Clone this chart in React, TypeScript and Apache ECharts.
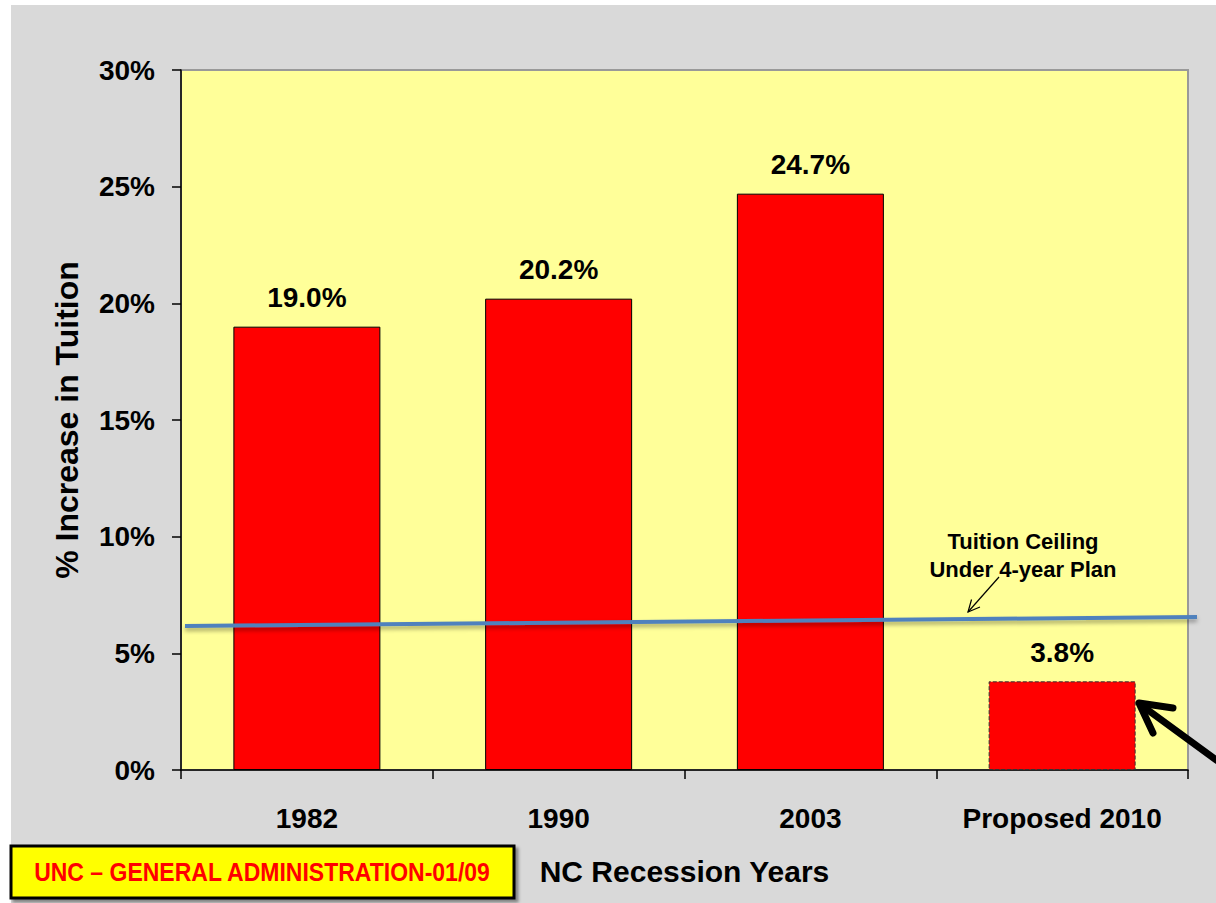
import React, { useEffect, useRef } from "react";
import * as echarts from "echarts";

const categories = ["1982", "1990", "2003", "Proposed 2010"];
const increases = [0.19, 0.202, 0.247, 0.038];
const valueLabels = ["19.0%", "20.2%", "24.7%", "3.8%"];
const yTicks = { min: 0, max: 0.3, interval: 0.05 };

const FONT = "Arial, 'Liberation Sans', Helvetica, sans-serif";

function arrowHead(x1: number, y1: number, x2: number, y2: number, len: number, ang: number) {
  const dx = x2 - x1;
  const dy = y2 - y1;
  const d = Math.sqrt(dx * dx + dy * dy);
  const ux = dx / d;
  const uy = dy / d;
  const rot = (a: number) => {
    const c = Math.cos(a);
    const s = Math.sin(a);
    return [x2 - len * (ux * c - uy * s), y2 - len * (ux * s + uy * c)];
  };
  return [rot(ang), [x2, y2], rot(-ang)];
}

export default function App() {
  const ref = useRef<HTMLDivElement>(null);
  useEffect(() => {
    if (!ref.current) return;
    const chart = echarts.init(ref.current, null, { renderer: "svg" });
    const data = increases.map((v, i) => {
      const item: any = { value: v };
      if (i === 3) {
        item.itemStyle = { borderType: "dashed", borderColor: "#333" };
      }
      return item;
    });
    chart.setOption({
      animation: false,
      backgroundColor: "transparent",
      grid: {
        left: 181,
        right: 28,
        top: 70,
        bottom: 133,
        show: true,
        backgroundColor: "#ffff99",
        borderColor: "#999999",
        borderWidth: 2,
      },
      xAxis: {
        type: "category",
        data: categories,
        name: "NC Recession Years",
        nameLocation: "middle",
        nameGap: 86,
        nameTextStyle: { fontFamily: FONT, fontWeight: "bold", fontSize: 30, color: "#000" },
        axisLine: { show: true, lineStyle: { color: "#000", width: 1.5 } },
        axisTick: { show: true, length: 9, lineStyle: { color: "#000", width: 1.5 } },
        axisLabel: {
          interval: 0,
          hideOverlap: false,
          margin: 34,
          fontFamily: FONT,
          fontWeight: "bold",
          fontSize: 28,
          color: "#000",
        },
      },
      yAxis: {
        type: "value",
        min: yTicks.min,
        max: yTicks.max,
        interval: yTicks.interval,
        name: "% Increase in Tuition",
        nameLocation: "middle",
        nameRotate: 90,
        nameGap: 98,
        nameTextStyle: { fontFamily: FONT, fontWeight: "bold", fontSize: 32, color: "#000" },
        axisLine: { show: true, lineStyle: { color: "#000", width: 1.5 } },
        axisTick: { show: true, length: 9, lineStyle: { color: "#000", width: 1.5 } },
        splitLine: { show: false },
        axisLabel: {
          margin: 26,
          fontFamily: FONT,
          fontWeight: "bold",
          fontSize: 28,
          color: "#000",
          formatter: (v: number) => Math.round(v * 100) + "%",
        },
      },
      series: [
        {
          type: "bar",
          data,
          barWidth: 147,
          itemStyle: { color: "#ff0000", borderColor: "#000", borderWidth: 1 },
          label: {
            show: true,
            position: "top",
            distance: 15,
            fontFamily: FONT,
            fontWeight: "bold",
            fontSize: 28,
            color: "#000",
            formatter: (p: any) => valueLabels[p.dataIndex],
          },
        },
      ],
      graphic: [
        {
          type: "line",
          shape: { x1: 185, y1: 626, x2: 1197, y2: 617 },
          style: {
            stroke: "#4f81bd",
            lineWidth: 4,
            shadowBlur: 4,
            shadowOffsetY: 3,
            shadowColor: "rgba(0,0,0,0.35)",
          },
          z: 10,
        },
        {
          type: "text",
          x: 1023,
          y: 541,
          style: {
            text: "Tuition Ceiling",
            font: `bold 22px ${FONT}`,
            fill: "#000",
            align: "center",
            verticalAlign: "middle",
          },
          z: 10,
        },
        {
          type: "text",
          x: 1023,
          y: 569,
          style: {
            text: "Under 4-year Plan",
            font: `bold 22px ${FONT}`,
            fill: "#000",
            align: "center",
            verticalAlign: "middle",
          },
          z: 10,
        },
        {
          type: "line",
          shape: { x1: 999, y1: 577, x2: 968, y2: 612 },
          style: { stroke: "#000", lineWidth: 1.2 },
          z: 10,
        },
        {
          type: "polyline",
          shape: { points: arrowHead(999, 577, 968, 612, 13, 0.45) },
          style: { stroke: "#000", lineWidth: 1.2, fill: "none" },
          z: 10,
        },
        {
          type: "line",
          shape: { x1: 1230, y1: 770, x2: 1141, y2: 705 },
          style: { stroke: "#000", lineWidth: 7, lineCap: "round" },
          z: 10,
        },
        {
          type: "polyline",
          shape: { points: [[1173, 708], [1139, 703], [1153, 733]] },
          style: { stroke: "#000", lineWidth: 7, fill: "none", lineCap: "round", lineJoin: "round" },
          z: 10,
        },
        {
          type: "rect",
          shape: { x: 11, y: 846, width: 503, height: 52 },
          style: {
            fill: "#ffff00",
            stroke: "#000",
            lineWidth: 3,
            shadowBlur: 3,
            shadowOffsetX: 3,
            shadowOffsetY: 3,
            shadowColor: "rgba(0,0,0,0.4)",
          },
          z: 10,
        },
        {
          type: "text",
          x: 262,
          y: 872,
          scaleX: 0.92,
          style: {
            text: "UNC \u2013 GENERAL ADMINISTRATION-01/09",
            font: `bold 25px ${FONT}`,
            fill: "#ff0000",
            align: "center",
            verticalAlign: "middle",
          },
          z: 11,
        },
      ],
    });
    return () => chart.dispose();
  }, []);
  return (
    <div style={{ position: "fixed", left: 0, top: 0, width: 1216, height: 903, background: "#ffffff" }}>
      <div style={{ position: "absolute", left: 11, top: 5, width: 1205, height: 898, background: "#d9d9d9" }} />
      <div ref={ref} style={{ position: "absolute", left: 0, top: 0, width: 1216, height: 903 }} />
    </div>
  );
}
